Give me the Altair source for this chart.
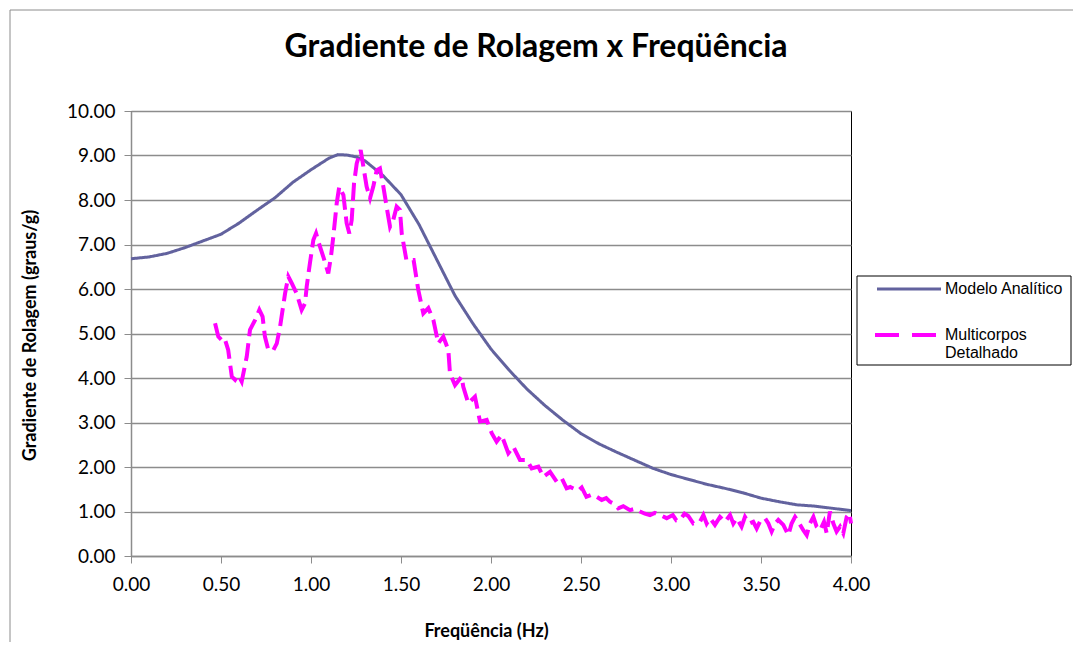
import altair as alt
import pandas as pd

# Modelo Analítico
an_f = [0.0, 0.1, 0.2, 0.3, 0.4, 0.5, 0.6, 0.7, 0.8, 0.9, 1.0, 1.1, 1.15, 1.2, 1.25, 1.3,
        1.4, 1.5, 1.6, 1.7, 1.8, 1.9, 2.0, 2.1, 2.2, 2.3, 2.4, 2.5, 2.6, 2.7, 2.8, 2.9,
        3.0, 3.1, 3.2, 3.3, 3.4, 3.5, 3.6, 3.7, 3.8, 3.9, 4.0]
an_v = [6.68, 6.72, 6.80, 6.93, 7.08, 7.23, 7.48, 7.77, 8.05, 8.40, 8.68, 8.94, 9.02, 9.01, 8.97, 8.88,
        8.55, 8.12, 7.45, 6.65, 5.85, 5.22, 4.65, 4.18, 3.75, 3.38, 3.05, 2.75, 2.52, 2.33, 2.15, 1.97,
        1.83, 1.72, 1.61, 1.52, 1.42, 1.30, 1.22, 1.15, 1.12, 1.07, 1.02]

# Multicorpos Detalhado
mc_f = [0.467, 0.485, 0.504, 0.52, 0.54, 0.56, 0.578, 0.596, 0.615, 0.643, 0.661, 0.689, 0.713, 0.731,
        0.744, 0.763, 0.791, 0.81, 0.828, 0.856, 0.874, 0.893, 0.92, 0.948, 0.967, 0.976, 0.994, 1.013,
        1.028, 1.05, 1.068, 1.096, 1.111, 1.124, 1.143, 1.157, 1.18, 1.198, 1.213, 1.226, 1.239, 1.254,
        1.276, 1.291, 1.309, 1.328, 1.346, 1.365, 1.383, 1.402, 1.42, 1.439, 1.457, 1.476, 1.494, 1.504,
        1.53, 1.57, 1.596, 1.624, 1.652, 1.68, 1.707, 1.735, 1.763, 1.772, 1.80, 1.837, 1.846, 1.874,
        1.911, 1.939, 1.976, 2.004, 2.031, 2.059, 2.096, 2.124, 2.161, 2.198, 2.226, 2.263, 2.291, 2.328,
        2.365, 2.393, 2.42, 2.44, 2.467, 2.485, 2.504, 2.53, 2.56, 2.587, 2.615, 2.64, 2.66, 2.685, 2.707,
        2.735, 2.772, 2.80, 2.828, 2.855, 2.883, 2.91, 2.94, 2.976, 3.01, 3.03, 3.05, 3.075, 3.096,
        3.124, 3.161, 3.180, 3.198, 3.217, 3.244, 3.272, 3.300, 3.328, 3.346, 3.365, 3.392, 3.411,
        3.435, 3.457, 3.476, 3.494, 3.522, 3.541, 3.559, 3.578, 3.596, 3.624, 3.652, 3.670, 3.689,
        3.707, 3.735, 3.754, 3.772, 3.791, 3.809, 3.828, 3.85, 3.865, 3.883, 3.902, 3.920, 3.939,
        3.957, 3.976, 3.991, 4.0]
mc_v = [5.23, 4.93, 4.85, 4.89, 4.63, 4.03, 3.96, 4.07, 3.92, 4.48, 5.08, 5.30, 5.53, 5.38,
        4.93, 4.63, 4.63, 4.78, 5.15, 5.90, 6.28, 6.13, 5.90, 5.53, 5.68, 6.05, 6.58, 7.10,
        7.25, 6.95, 6.73, 6.35, 6.73, 7.18, 7.93, 8.30, 8.11, 7.48, 7.25, 7.55, 8.37, 8.82,
        9.12, 8.75, 8.30, 8.04, 8.30, 8.67, 8.71, 8.30, 7.85, 7.40, 7.55, 7.85, 7.78, 7.25,
        6.65, 6.65, 5.98, 5.45, 5.57, 5.30, 4.78, 4.93, 4.63, 4.10, 3.84, 4.03, 3.80, 3.43,
        3.58, 3.02, 3.06, 2.76, 2.57, 2.72, 2.31, 2.46, 2.16, 2.16, 1.97, 2.01, 1.78, 1.89,
        1.67, 1.75, 1.52, 1.55, 1.50, 1.47, 1.54, 1.33, 1.38, 1.33, 1.26, 1.30, 1.22, 1.17, 1.07,
        1.12, 1.03, 1.06, 1.00, 0.95, 0.92, 0.97, 0.92, 0.85, 0.92, 0.80, 0.81, 0.95, 0.90,
        0.73, 0.77, 0.92, 0.73, 0.85, 0.70, 0.88, 0.77, 0.92, 0.73, 0.85, 0.66, 0.88,
        0.73, 0.77, 0.62, 0.77, 0.85, 0.73, 0.55, 0.73, 0.81, 0.70, 0.47, 0.73, 0.88,
        0.77, 0.58, 0.47, 0.73, 0.88, 0.66, 0.58, 0.77, 0.51, 1.00, 0.73, 0.55, 0.66,
        0.51, 0.88, 0.96, 0.73]

series = ["Modelo Analítico", "Multicorpos Detalhado"]
legend_lines = ["Modelo Analítico", "Multicorpos", "Detalhado"]

df = pd.concat([
    pd.DataFrame({"f": an_f, "v": an_v, "s": series[0], "o": range(len(an_f))}),
    pd.DataFrame({"f": mc_f, "v": mc_v, "s": series[1], "o": range(len(mc_f))}),
])

FONT = "Lato"
LEG_FONT = "Liberation Sans"
BLUE = "#62629E"
MAGENTA = "#FF00FF"

one = pd.DataFrame({"a": [0]})

frame = alt.Chart(one).mark_rect(fill=None, stroke="#8c8c8c", strokeWidth=1).encode(
    x=alt.value(-121), x2=alt.value(1000), y=alt.value(-101), y2=alt.value(700)
)

lines = alt.Chart(df).mark_line(clip=False).encode(
    x=alt.X("f:Q", scale=alt.Scale(domain=[0, 4], nice=False),
            axis=alt.Axis(values=[0, 0.5, 1, 1.5, 2, 2.5, 3, 3.5, 4], format=".2f",
                          title="Freqüência (Hz)", grid=False, tickSize=7, labelPadding=12,
                          labelFlush=False, titleX=355, titleY=75, titleBaseline="middle")),
    y=alt.Y("v:Q", scale=alt.Scale(domain=[0, 10], nice=False),
            axis=alt.Axis(values=list(range(0, 11)), format=".2f",
                          title="Gradiente de Rolagem (graus/g)", grid=True, tickSize=7,
                          labelPadding=9, titleX=-101, titleY=224, titleBaseline="middle")),
    order="o:Q",
    color=alt.Color("s:N", scale=alt.Scale(domain=series, range=[BLUE, MAGENTA]), legend=None),
    strokeDash=alt.StrokeDash("s:N", scale=alt.Scale(domain=series, range=[[1, 0], [18, 7]]), legend=None),
    strokeWidth=alt.StrokeWidth("s:N", scale=alt.Scale(domain=series, range=[3, 4]), legend=None),
)

# legend (drawn as a boxed key to the right of the plot)
leg_box = alt.Chart(one).mark_rect(fill="white", stroke="black", strokeWidth=1).encode(
    x=alt.value(726), x2=alt.value(940), y=alt.value(165), y2=alt.value(254)
)
leg_sym1 = alt.Chart(one).mark_rule(color=BLUE, strokeWidth=3).encode(
    x=alt.value(746), x2=alt.value(810), y=alt.value(178)
)
leg_sym2 = alt.Chart(one).mark_rule(color=MAGENTA, strokeWidth=4, strokeDash=[24, 13]).encode(
    x=alt.value(744), x2=alt.value(806), y=alt.value(224)
)
leg_txt1 = alt.Chart(one).mark_text(text=legend_lines[0], font=LEG_FONT, fontSize=16, align="left",
                                    baseline="middle", color="black").encode(
    x=alt.value(814), y=alt.value(178)
)
leg_txt2 = alt.Chart(one).mark_text(text=legend_lines[1], font=LEG_FONT, fontSize=16, align="left",
                                    baseline="middle", color="black").encode(
    x=alt.value(814), y=alt.value(224)
)
leg_txt3 = alt.Chart(one).mark_text(text=legend_lines[2], font=LEG_FONT, fontSize=16, align="left",
                                    baseline="middle", color="black").encode(
    x=alt.value(814), y=alt.value(242)
)

chart = alt.layer(frame, lines, leg_box, leg_sym1, leg_sym2, leg_txt1, leg_txt2, leg_txt3).properties(
    width=720, height=445,
    title=alt.TitleParams("Gradiente de Rolagem x Freqüência", fontSize=32, font=FONT,
                          fontWeight="bold", color="black", anchor="middle", frame="group",
                          baseline="alphabetic", dx=45, offset=-79),
    padding={"left": 123, "top": 103, "right": 222, "bottom": 86},
    autosize=alt.AutoSizeParams(type="none"),
).configure_view(stroke="black", strokeWidth=1).configure_axis(
    labelFont=FONT, labelFontSize=19, labelColor="black", titleFont=FONT, titleFontSize=18,
    titleFontWeight="bold", titleColor="black", domainColor="#8c8c8c", domainWidth=1.5,
    tickColor="#8c8c8c", gridColor="#8c8c8c", gridWidth=1.5
)

chart.save("out.html", embed_options={"renderer": "svg", "actions": False})
